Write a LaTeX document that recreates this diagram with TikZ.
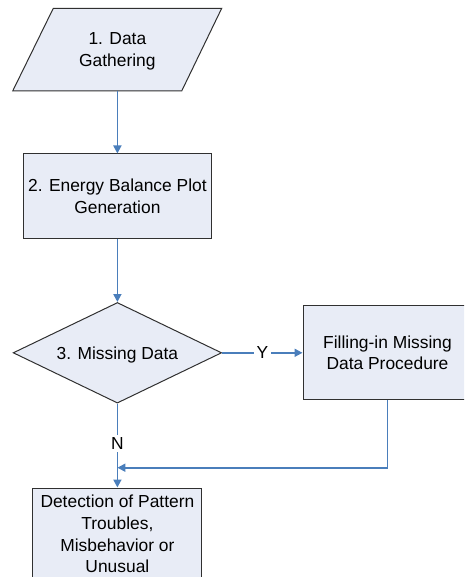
\documentclass[tikz,border=0pt]{standalone}
\usepackage{fontspec}
\setmainfont{Liberation Sans}
\usetikzlibrary{shapes.geometric,arrows.meta}
\definecolor{connblue}{HTML}{4A7EBB}
\definecolor{boxfill}{HTML}{E8ECF6}
\definecolor{boxline}{HTML}{303030}
\begin{document}
\begin{tikzpicture}[x=1pt,y=-1pt,
  every node/.style={font=\fontsize{17.4}{21.6}\selectfont, align=center, text=black, text depth=0pt},
  procbox/.style={draw=boxline, fill=boxfill, line width=1pt, rectangle, inner sep=0pt},
  decbox/.style={draw=boxline, fill=boxfill, line width=1pt, diamond, inner sep=0pt, aspect=2.07, minimum width=208.5pt, minimum height=100.6pt},
  arrowline/.style={draw=connblue, line width=1.8pt, -{Triangle[length=8pt,width=8pt]}},
  lbl/.style={fill=white, inner sep=2.5pt}]
\path[use as bounding box] (0,0) rectangle (464,577);
\clip (0,0) rectangle (464,577);
% 1. Data Gathering (parallelogram)
\path[draw=boxline, fill=boxfill, line width=1pt] (53.3,8.3) -- (221.7,8.3) -- (181.7,91) -- (12.7,91) -- cycle;
\node[inner sep=0pt, minimum height=82.7pt] (gather) at (117.4,49.7) {1. Data\\Gathering};
% 2. Energy Balance Plot Generation
\node[procbox, minimum width=187.5pt, minimum height=84pt] (plot) at (117.4,196) {2. Energy Balance Plot\\Generation};
% 3. Missing Data decision
\node[decbox] (miss) at (117.4,352.8) {3. Missing Data};
% Filling-in
\node[procbox, minimum width=169pt, minimum height=94.3pt] (filling) at (387.5,352.8) {Filling-in Missing\\Data Procedure};
% Detection
\node[procbox, minimum width=169pt, minimum height=92pt] (detect) at (117.4,534) {Detection of Pattern\\Troubles,\\Misbehavior or\\Unusual};
\coordinate (join) at (117.4,467.7);
% connectors
\draw[arrowline] (gather.south) -- (plot.north);
\draw[arrowline] (plot.south) -- (miss.north);
\draw[arrowline] (miss.east) -- node[lbl]{Y} (filling.west);
\draw[arrowline] (miss.south) -- node[lbl, pos=0.48]{N} (detect.north);
\draw[arrowline] (filling.south) |- (join);
\end{tikzpicture}
\end{document}
